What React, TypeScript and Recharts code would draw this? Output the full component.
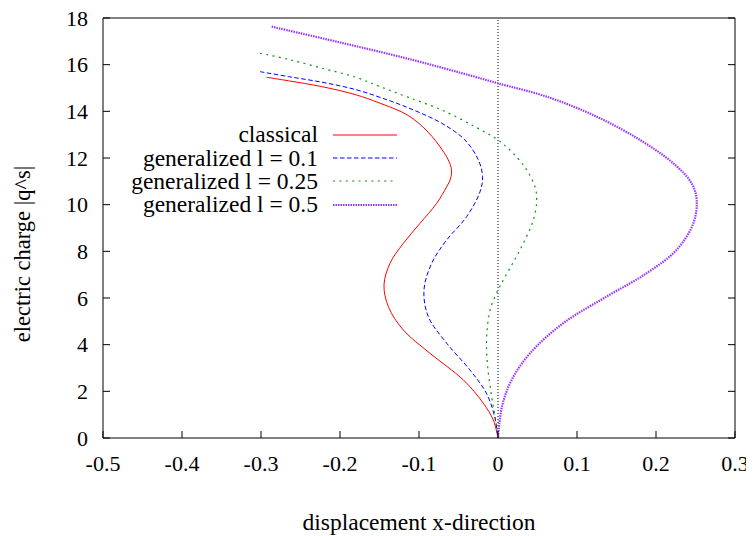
import React from "react";
import { LineChart, Line, XAxis, YAxis, ReferenceLine, Label } from "recharts";

// curves, from the top end down to the origin
const classical = [
  { x: -0.2928, y: 15.46 }, { x: -0.2654, y: 15.31 }, { x: -0.2232, y: 15.06 }, { x: -0.181, y: 14.72 },
  { x: -0.1494, y: 14.35 }, { x: -0.1135, y: 13.82 }, { x: -0.0882, y: 13.1 }, { x: -0.0705, y: 12.34 },
  { x: -0.0634, y: 11.95 }, { x: -0.0588, y: 11.5 }, { x: -0.0602, y: 11.1 }, { x: -0.0649, y: 10.77 },
  { x: -0.0776, y: 10.06 }, { x: -0.0987, y: 9.2 }, { x: -0.1199, y: 8.34 }, { x: -0.1367, y: 7.49 },
  { x: -0.1443, y: 6.56 }, { x: -0.1388, y: 5.63 }, { x: -0.1199, y: 4.63 }, { x: -0.0861, y: 3.63 },
  { x: -0.0439, y: 2.49 }, { x: -0.0186, y: 1.49 }, { x: -0.0059, y: 0.77 }, { x: 0, y: 0 },
];

const gen01 = [
  { x: -0.3013, y: 15.7 }, { x: -0.2654, y: 15.49 }, { x: -0.2232, y: 15.25 }, { x: -0.181, y: 14.94 },
  { x: -0.1494, y: 14.6 }, { x: -0.1135, y: 14.15 }, { x: -0.0713, y: 13.49 }, { x: -0.0418, y: 12.77 },
  { x: -0.0249, y: 11.92 }, { x: -0.0195, y: 11.2 }, { x: -0.0228, y: 10.55 }, { x: -0.0396, y: 9.49 },
  { x: -0.0649, y: 8.49 }, { x: -0.0839, y: 7.49 }, { x: -0.0937, y: 6.34 }, { x: -0.0882, y: 5.2 },
  { x: -0.0649, y: 4.06 }, { x: -0.0354, y: 2.91 }, { x: -0.0147, y: 1.92 }, { x: -0.0042, y: 0.91 },
  { x: 0, y: 0 },
];

const gen025 = [
  { x: -0.3013, y: 16.49 }, { x: -0.2654, y: 16.23 }, { x: -0.2232, y: 15.85 }, { x: -0.181, y: 15.47 },
  { x: -0.1494, y: 15.06 }, { x: -0.1135, y: 14.6 }, { x: -0.0713, y: 14.06 }, { x: -0.0291, y: 13.34 },
  { x: 0, y: 12.77 }, { x: 0.0193, y: 12.2 }, { x: 0.0363, y: 11.49 }, { x: 0.0468, y: 10.77 },
  { x: 0.049, y: 10.2 }, { x: 0.0447, y: 9.34 }, { x: 0.0278, y: 8.06 }, { x: 0.009, y: 6.91 },
  { x: 0, y: 6.34 }, { x: -0.01, y: 5.49 }, { x: -0.0143, y: 4.34 }, { x: -0.0135, y: 3.2 },
  { x: -0.008, y: 1.77 }, { x: -0.003, y: 0.77 }, { x: 0, y: 0 },
];

const gen05 = [
  { x: -0.2865, y: 17.63 }, { x: -0.2022, y: 16.97 }, { x: -0.1135, y: 16.25 }, { x: -0.0291, y: 15.48 },
  { x: 0, y: 15.2 }, { x: 0.0616, y: 14.63 }, { x: 0.125, y: 13.77 }, { x: 0.18, y: 12.77 },
  { x: 0.222, y: 11.77 }, { x: 0.245, y: 10.92 }, { x: 0.2515, y: 10.2 }, { x: 0.2472, y: 9.2 },
  { x: 0.226, y: 8.06 }, { x: 0.188, y: 7.06 }, { x: 0.1375, y: 6.06 }, { x: 0.0826, y: 4.92 },
  { x: 0.0405, y: 3.63 }, { x: 0.0173, y: 2.49 }, { x: 0.005, y: 1.34 }, { x: 0, y: 0 },
];

const xTicks = [-0.5, -0.4, -0.3, -0.2, -0.1, 0, 0.1, 0.2, 0.3];
const yTicks = [0, 2, 4, 6, 8, 10, 12, 14, 16, 18];

const series = [
  { name: "classical", data: classical, color: "#ff0000", dash: undefined, width: 1 },
  { name: "generalized l = 0.1", data: gen01, color: "#0000ff", dash: "4.5 2.5", width: 1 },
  { name: "generalized l = 0.25", data: gen025, color: "#009900", dash: "2 4.4", width: 1.2 },
  { name: "generalized l = 0.5", data: gen05, color: "#9933ff", dash: "1.5 1", width: 2.2 },
];

const font = "'Times New Roman', 'Liberation Serif', 'DejaVu Serif', serif";
const fmt = (v: number) => String(Math.round(v * 10) / 10);

// centripetal Catmull-Rom (same maths as d3's curveCatmullRom), fine for parametric data
const catmullRom = (context: any) => {
  let pts: number[][] = [];
  const d = (a: number[], b: number[]) => Math.hypot(a[0] - b[0], a[1] - b[1]);
  return {
    areaStart() {},
    areaEnd() {},
    lineStart() { pts = []; },
    point(x: number, y: number) { pts.push([+x, +y]); },
    lineEnd() {
      const n = pts.length;
      if (!n) return;
      context.moveTo(pts[0][0], pts[0][1]);
      for (let i = 0; i < n - 1; i++) {
        const p0 = pts[Math.max(i - 1, 0)];
        const p1 = pts[i];
        const p2 = pts[i + 1];
        const p3 = pts[Math.min(i + 2, n - 1)];
        const l01a = Math.sqrt(d(p0, p1)), l12a = Math.sqrt(d(p1, p2)), l23a = Math.sqrt(d(p2, p3));
        const l01 = l01a * l01a, l12 = l12a * l12a, l23 = l23a * l23a;
        let c1 = p1, c2 = p2;
        if (l01a > 1e-9) {
          const a = 2 * l01 + 3 * l01a * l12a + l12;
          const nn = 3 * l01a * (l01a + l12a);
          c1 = [(p1[0] * a - p0[0] * l12 + p2[0] * l01) / nn, (p1[1] * a - p0[1] * l12 + p2[1] * l01) / nn];
        }
        if (l23a > 1e-9) {
          const b = 2 * l23 + 3 * l23a * l12a + l12;
          const m = 3 * l23a * (l23a + l12a);
          c2 = [(p2[0] * b + p1[0] * l23 - p3[0] * l12) / m, (p2[1] * b + p1[1] * l23 - p3[1] * l12) / m];
        }
        context.bezierCurveTo(c1[0], c1[1], c2[0], c2[1], p2[0], p2[1]);
      }
    },
  };
};

const BottomTick = ({ x, y, payload }: any) => (
  <g>
    <line x1={x} x2={x} y1={y} y2={y - 7} stroke="#000" />
    <text x={x} y={y + 25} textAnchor="middle" dominantBaseline="central" fontFamily={font} fontSize={22} fill="#000">
      {fmt(payload.value)}
    </text>
  </g>
);

const TopTick = ({ x, y }: any) => <line x1={x} x2={x} y1={y} y2={y + 7} stroke="#000" />;

const LeftTick = ({ x, y, payload }: any) => (
  <g>
    <line x1={x} x2={x + 7} y1={y} y2={y} stroke="#000" />
    <text x={x - 15} y={y} textAnchor="end" dominantBaseline="central" fontFamily={font} fontSize={22} fill="#000">
      {payload.value}
    </text>
  </g>
);

const RightTick = ({ x, y }: any) => <line x1={x} x2={x - 7} y1={y} y2={y} stroke="#000" />;

const LegendBox = () => (
  <div style={{ position: "absolute", left: 10, top: 123, fontFamily: font, fontSize: 23.5, color: "#000" }}>
    {series.map((s) => (
      <div key={s.name} style={{ display: "flex", alignItems: "center", height: 23.4 }}>
        <div style={{ width: 300, textAlign: "right", lineHeight: "23px", whiteSpace: "pre" }}>{s.name}</div>
        <svg width={64} height={10} style={{ marginLeft: 15 }}>
          <line x1={0} x2={64} y1={5} y2={5} stroke={s.color} strokeWidth={s.width} strokeDasharray={s.dash} />
        </svg>
      </div>
    ))}
  </div>
);

const YLabel = ({ viewBox }: any) => {
  const cx = viewBox.x + 14;
  const cy = viewBox.y + viewBox.height / 2 + 26;
  return (
    <text x={cx} y={cy} transform={`rotate(-90 ${cx} ${cy})`} textAnchor="middle" dominantBaseline="central"
      fontFamily={font} fontSize={22.5} fill="#000">
      electric charge |q^s|
    </text>
  );
};

const XLabel = ({ viewBox }: any) => (
  <text x={viewBox.x + viewBox.width / 2} y={viewBox.y + 84} textAnchor="middle" dominantBaseline="central"
    fontFamily={font} fontSize={23.5} fill="#000">
    displacement x-direction
  </text>
);

export default function App() {
  return (
    <div style={{ position: "relative", width: 746, height: 536, marginTop: -8 }}>
      <LineChart width={746} height={536} margin={{ top: 17, right: 18, left: 0, bottom: 0 }}>
        <XAxis xAxisId="top" orientation="top" type="number" domain={[-0.5, 0.3]} ticks={xTicks} interval={0}
          height={1} tickSize={0} tickMargin={0} tick={<TopTick />} axisLine={{ stroke: "#000" }} tickLine={false}
          allowDataOverflow />
        <XAxis dataKey="x" type="number" domain={[-0.5, 0.3]} ticks={xTicks} interval={0} height={98}
          tickSize={0} tickMargin={0} tick={<BottomTick />} axisLine={{ stroke: "#000" }} tickLine={false}
          allowDataOverflow>
          <Label content={<XLabel />} />
        </XAxis>
        <YAxis type="number" domain={[0, 18]} ticks={yTicks} interval={0} width={95} tickSize={0} tickMargin={0}
          tick={<LeftTick />} axisLine={{ stroke: "#000" }} tickLine={false} allowDataOverflow>
          <Label content={<YLabel />} />
        </YAxis>
        <YAxis yAxisId="right" orientation="right" type="number" domain={[0, 18]} ticks={yTicks} interval={0}
          width={1} tickSize={0} tickMargin={0} tick={<RightTick />} axisLine={{ stroke: "#000" }} tickLine={false}
          allowDataOverflow />
        <ReferenceLine x={0} stroke="#000" strokeDasharray="1 2" />
        {series.map((s) => (
          <Line key={s.name} data={s.data} dataKey="y" name={s.name} type={catmullRom as any} stroke={s.color}
            strokeWidth={s.width} strokeDasharray={s.dash} dot={false} activeDot={false} isAnimationActive={false} />
        ))}
      </LineChart>
      <LegendBox />
    </div>
  );
}
